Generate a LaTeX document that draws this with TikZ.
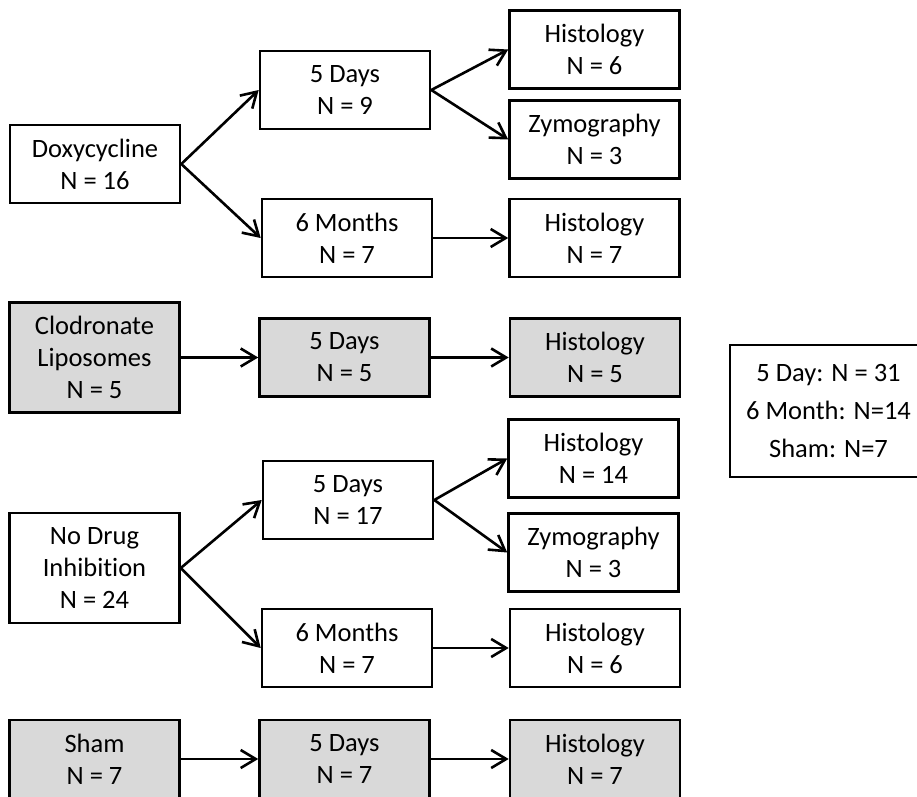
\documentclass[tikz,border=0pt]{standalone}
\usepackage{fontspec}
\setmainfont{Carlito}[Ligatures=NoCommon]
\usetikzlibrary{arrows.meta}

\begin{document}
\begin{tikzpicture}[x=1pt, y=-1pt, line width=2.6pt,
	every node/.style={font=\fontsize{26.5}{32}\selectfont},
	>={Straight Barb[length=15pt, width=18pt]},
	box/.style={draw, align=center, minimum width=170pt, minimum height=78pt, inner sep=0pt},
	shaded/.style={box, fill=black!15},
	tall/.style={minimum height=110pt}]
	\useasboundingbox (0,0) rectangle (917,796);
	\clip (0,0) rectangle (917,796);
	% doxycycline arm
	\node[box] (dox) at (95,164) {Doxycycline\\N = 16};
	\node[box] (dox5) at (345,90) {5 Days\\N = 9};
	\node[box] (dox6) at (347,238) {6 Months\\N = 7};
	\node[box] (doxhis) at (594.5,49.5) {Histology\\N = 6};
	\node[box] (doxzym) at (594.5,139.5) {Zymography\\N = 3};
	\node[box] (doxsixhis) at (594.5,238) {Histology\\N = 7};
	% clodronate arm
	\node[shaded, tall] (clo) at (94.5,357.5) {Clodronate\\Liposomes\\N = 5};
	\node[shaded] (clo5) at (344.5,357.5) {5 Days\\N = 5};
	\node[shaded] (clohis) at (595,357.5) {Histology\\N = 5};
	% no drug arm
	\node[box, tall] (nod) at (94.5,568) {No Drug\\Inhibition\\N = 24};
	\node[box] (nod5) at (348,500) {5 Days\\N = 17};
	\node[box] (nod6) at (347,648) {6 Months\\N = 7};
	\node[box] (nodhis) at (593.5,458.5) {Histology\\N = 14};
	\node[box] (nodzym) at (593.5,552.5) {Zymography\\N = 3};
	\node[box] (nodsixhis) at (595,648) {Histology\\N = 6};
	% sham arm
	\node[shaded] (sham) at (94.5,759) {Sham\\N = 7};
	\node[shaded] (sham5) at (344.5,759) {5 Days\\N = 7};
	\node[shaded] (shamhis) at (595,759) {Histology\\N = 7};
	% totals
	\node[box, minimum width=197pt, minimum height=132pt,
		font=\fontsize{26.5}{38}\selectfont] (totals) at (828.5,411)
		{5 Day: N = 31\\6 Month: N=14\\Sham: N=7};

	\draw[->] (dox.east) -- (dox5.west);
	\draw[->] (dox.east) -- (dox6.west);
	\draw[->] (dox5.east) -- (doxhis.west);
	\draw[->] (dox5.east) -- (doxzym.west);
	\draw[->] (dox6.east) -- (doxsixhis.west);
	\draw[->] (clo.east) -- (clo5.west);
	\draw[->] (clo5.east) -- (clohis.west);
	\draw[->] (nod.east) -- (nod5.west);
	\draw[->] (nod.east) -- (nod6.west);
	\draw[->] (nod5.east) -- (nodhis.west);
	\draw[->] (nod5.east) -- (nodzym.west);
	\draw[->] (nod6.east) -- (nodsixhis.west);
	\draw[->] (sham.east) -- (sham5.west);
	\draw[->] (sham5.east) -- (shamhis.west);
\end{tikzpicture}
\end{document}
